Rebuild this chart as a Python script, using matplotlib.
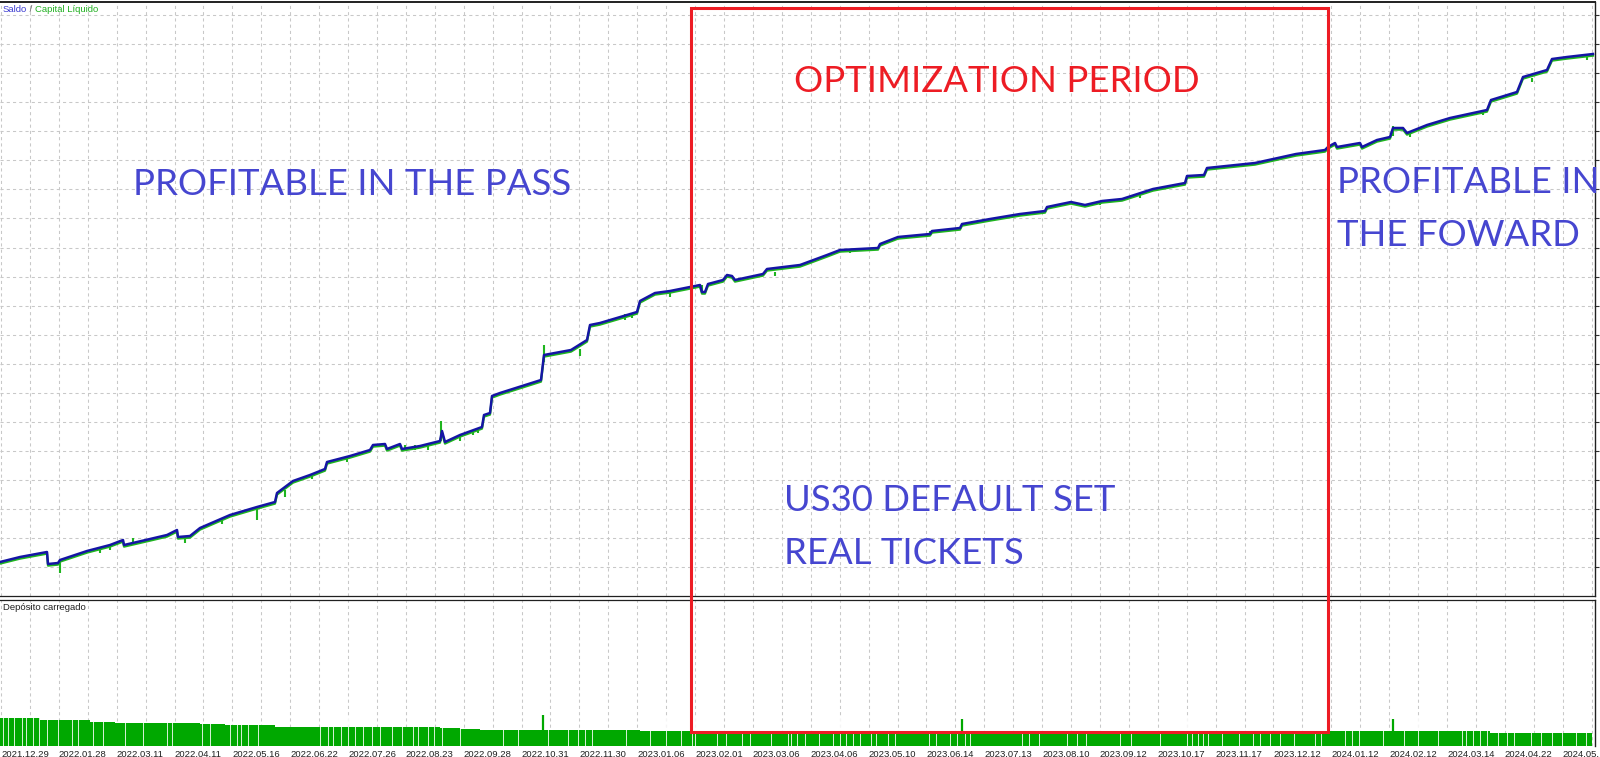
import numpy as np
import matplotlib.pyplot as plt
from matplotlib.patches import Rectangle
from matplotlib import transforms

plt.rcParams['font.family'] = ['Liberation Sans', 'DejaVu Sans']

# balance curve: deal number vs balance (USD)
bal_x = [0, 20, 47, 48, 58, 60, 87, 110, 123, 124, 150, 167, 177, 178, 190, 200,
         230, 257, 275, 277, 293, 310, 325, 327, 350, 370, 373, 385, 387, 400, 402,
         420, 440, 442, 445, 460, 482, 484, 490, 492, 500, 541, 544, 571, 587, 590,
         600, 637, 640, 655, 670, 690, 700, 702, 705, 708, 723, 727, 732, 735, 763,
         767, 800, 827, 840, 878, 880, 898, 930, 932, 960, 962, 990, 1020, 1045,
         1047, 1071, 1085, 1102, 1122, 1153, 1185, 1187, 1204, 1207, 1255, 1296,
         1325, 1328, 1335, 1337, 1360, 1362, 1377, 1390, 1393, 1403, 1407, 1427,
         1450, 1487, 1491, 1517, 1523, 1547, 1552, 1567, 1593]
bal_y = [10380, 10430, 10480, 10360, 10370, 10400, 10490, 10550, 10600, 10550,
         10610, 10650, 10700, 10630, 10640, 10720, 10850, 10930, 10980, 11070,
         11190, 11250, 11310, 11380, 11440, 11500, 11550, 11560, 11510, 11560,
         11510, 11540, 11590, 11690, 11580, 11650, 11730, 11850, 11870, 12040,
         12070, 12200, 12450, 12500, 12600, 12750, 12770, 12880, 12990, 13070,
         13090, 13130, 13150, 13080, 13080, 13160, 13200, 13250, 13240, 13200,
         13260, 13310, 13350, 13450, 13500, 13520, 13560, 13630, 13660, 13690,
         13720, 13760, 13810, 13860, 13890, 13930, 13980, 13950, 13990, 14010,
         14110, 14170, 14240, 14250, 14320, 14370, 14460, 14500, 14530, 14570,
         14530, 14570, 14530, 14600, 14630, 14720, 14720, 14670, 14750, 14820,
         14900, 15000, 15080, 15230, 15300, 15410, 15430, 15460]

# equity excursions (deal, low, high)
eq_x = [60, 100, 110, 133, 185, 222, 257, 285, 312, 347, 405, 415, 428, 441,
        460, 473, 478, 544, 580, 625, 632, 670, 702, 775, 850, 930, 1100, 1140,
        1329, 1393, 1410, 1483, 1532, 1587]
eq_lo = [10270, 10470, 10500, 10570, 10570, 10760, 10800, 11030, 11210, 11380,
         11500, 11500, 11500, 11590, 11590, 11650, 11670, 12380, 12440, 12800,
         12820, 13030, 13070, 13240, 13470, 13650, 13950, 14020, 14480, 14640,
         14630, 14850, 15180, 15400]
eq_hi = [10390, 10520, 10550, 10620, 10630, 10820, 10930, 11100, 11260, 11430,
         11550, 11550, 11550, 11790, 11640, 11700, 11720, 12550, 12510, 12860,
         12870, 13090, 13150, 13280, 13510, 13690, 13990, 14060, 14530, 14740,
         14670, 14890, 15220, 15450]

# deposit load (%) by deal range
load_edges = [0, 40, 90, 115, 200, 225, 275, 440, 460, 480, 640, 1490, 1592]
load_vals = [14, 13, 12, 11.5, 11, 10.5, 9.5, 9, 8.5, 8, 7.5, 6.5]
load_gaps = [3, 8, 14, 22, 26, 33, 39, 47, 58, 72, 78, 93, 103, 125, 143, 167,
             172, 202, 210, 230, 237, 241, 248, 258, 320, 328, 333, 341, 348, 355,
             363, 372, 380, 392, 402, 413, 418, 428, 434, 442, 460, 503, 518, 548,
             568, 578, 585, 592, 626, 650, 666, 681, 692, 695, 717, 726, 742, 750,
             771, 788, 791, 797, 805, 819, 833, 840, 846, 853, 860, 871, 876, 888,
             895, 929, 936, 950, 957, 965, 970, 1022, 1029, 1039, 1067, 1077, 1086,
             1120, 1131, 1160, 1187, 1192, 1198, 1203, 1208, 1222, 1239, 1253, 1260,
             1270, 1280, 1294, 1315, 1321, 1345, 1352, 1359, 1383, 1404, 1418, 1438,
             1462, 1466, 1473, 1480, 1487, 1498, 1507, 1514, 1531, 1541, 1552, 1562,
             1576, 1586]
spike_x = [543, 962, 1393]
spike_y = [15.5, 13.5, 13.5]

date_labels = ['2021.12.29', '2022.01.28', '2022.03.11', '2022.04.11', '2022.05.16',
               '2022.06.22', '2022.07.26', '2022.08.23', '2022.09.28', '2022.10.31',
               '2022.11.30', '2023.01.06', '2023.02.01', '2023.03.06', '2023.04.06',
               '2023.05.10', '2023.06.14', '2023.07.13', '2023.08.10', '2023.09.12',
               '2023.10.17', '2023.11.17', '2023.12.12', '2024.01.12', '2024.02.12',
               '2024.03.14', '2024.04.22', '2024.05.']

opt_start, opt_end = 691, 1328

BLUE = '#1515a5'
GREEN = '#1fb51f'
BAR = '#00a800'
RED = '#ed1c24'
TXT = '#4646d0'

W, H = 1600, 757
fig = plt.figure(figsize=(W / 100, H / 100), dpi=100)
ax = fig.add_axes([0, (H - 596) / H, 1595 / W, 594 / H])
ax2 = fig.add_axes([0, (H - 746) / H, 1595 / W, 146 / H])

grid_x = np.arange(1, 1595, 28.92)
gridstyle = dict(color='#c8c8c8', linestyle=(0, (3, 3)), linewidth=0.75)

# upper panel
ax.set_xlim(0, 1595)
ax.set_ylim(10040, 15980)
ax.set_xticks(grid_x)
ax.set_yticks(np.arange(15850, 10040, -290.7))
ax.grid(True, **gridstyle)
ax.set_axisbelow(True)
ax.tick_params(axis='x', length=0, labelbottom=False)
ax.tick_params(axis='y', left=False, right=True, direction='out', length=3,
               color='#303030', labelleft=False)
for s in ['top', 'right', 'bottom']:
    ax.spines[s].set_color('#202020')
ax.spines['top'].set_linewidth(1.4)
ax.spines['right'].set_linewidth(1.0)
ax.spines['bottom'].set_linewidth(0.9)
ax.spines['left'].set_visible(False)

shift = transforms.offset_copy(ax.transData, fig=fig, x=0, y=-1.2, units='points')
ax.plot(bal_x, bal_y, color=GREEN, lw=1.6, transform=shift)
ax.vlines(eq_x, eq_lo, eq_hi, color=GREEN, lw=1.5)
ax.plot(bal_x, bal_y, color=BLUE, lw=1.8)

# lower panel
ax2.set_xlim(0, 1595)
ax2.set_ylim(0, 73)
ax2.set_xticks(grid_x[::2], labels=date_labels)
ax2.set_xticks(grid_x[1::2], minor=True)
ax2.set_yticks([])
ax2.grid(True, axis='x', which='both', **gridstyle)
ax2.set_axisbelow(True)
ax2.tick_params(axis='x', which='both', length=0, pad=2.6, labelsize=6.8,
                labelcolor='#202020')
for lbl in ax2.get_xticklabels():
    lbl.set_ha('left')
ax2.spines['top'].set_color('#202020')
ax2.spines['top'].set_linewidth(0.9)
ax2.spines['right'].set_color('#202020')
ax2.spines['right'].set_linewidth(1.0)
ax2.spines['left'].set_visible(False)
ax2.spines['bottom'].set_visible(False)

ax2.bar(load_edges[:-1], load_vals, width=np.diff(load_edges), align='edge',
        color=BAR, linewidth=0)
ax2.vlines(load_gaps, 0, max(load_vals) + 0.3, color='white', lw=0.7, alpha=0.85)
ax2.vlines(spike_x, 0, spike_y, color=BAR, lw=1.6)

# panel captions
t1 = fig.text(3 / W, 1 - 10 / H, 'Saldo', color='#3a3ad0', fontsize=6.8, va='center')
t2 = ax.annotate(' / ', xy=(1, 0), xycoords=t1, va='bottom', color='#606060',
                 fontsize=6.8)
ax.annotate('Capital Líquido', xy=(1, 0), xycoords=t2, va='bottom', color='#20b020',
            fontsize=6.8)
fig.text(3 / W, 1 - 607 / H, 'Depósito carregado', color='#202020', fontsize=6.8,
         va='center')

# annotations
big = dict(family=['Lato', 'DejaVu Sans'], fontsize=26.3, va='baseline', ha='left',
           clip_on=False)
ax.text(794, 15080, 'OPTIMIZATION PERIOD', color=RED, **big)
ax.text(133, 14050, 'PROFITABLE IN THE PASS', color=TXT, **big)
ax.text(1337, 14070, 'PROFITABLE IN', color=TXT, **big)
ax.text(1337, 13540, 'THE FOWARD', color=TXT, **big)
ax.text(784, 10890, 'US30 DEFAULT SET', color=TXT, **big)
ax.text(784, 10360, 'REAL TICKETS', color=TXT, **big)

span = transforms.blended_transform_factory(ax.transData, fig.transFigure)
rect = Rectangle((opt_start, (H - 732) / H), opt_end - opt_start, 724 / H,
                 transform=span, fill=False, edgecolor=RED, lw=2.2, zorder=10,
                 clip_on=False)
fig.add_artist(rect)

fig.savefig('out.png', dpi=100)
